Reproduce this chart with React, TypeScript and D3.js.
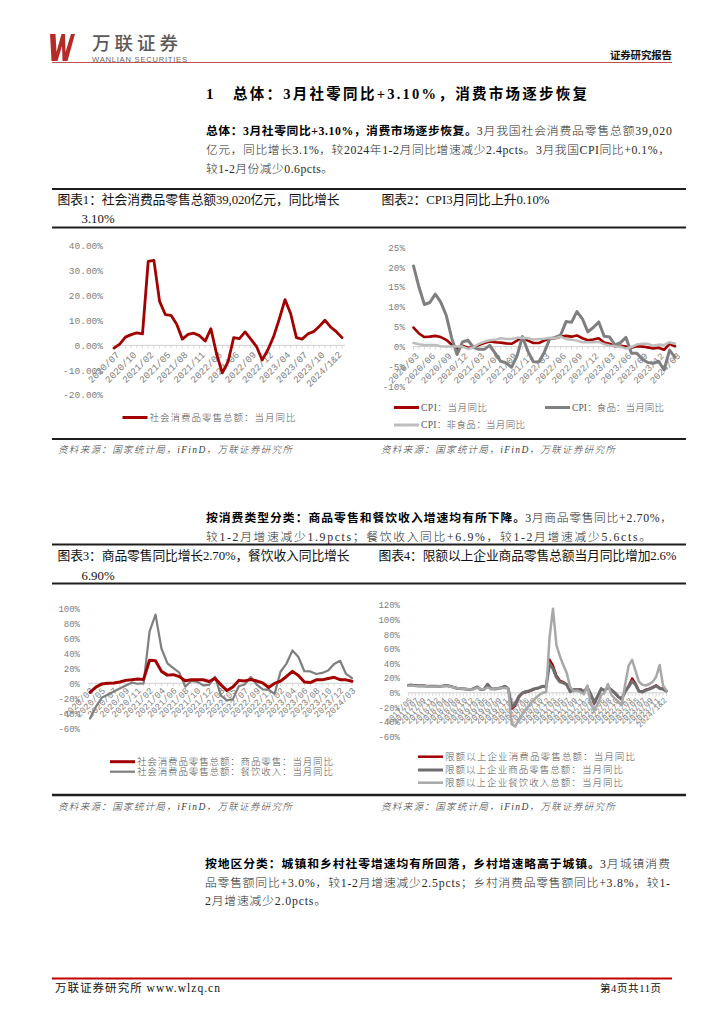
import React from "react";
import * as d3 from "d3";

// ---------------- data ----------------
// Chart 1: 社会消费品零售总额：当月同比 (%)
const cats1 = [
  "2020/07","2020/08","2020/09","2020/10","2020/11","2020/12",
  "2021/02","2021/03","2021/04","2021/05","2021/06","2021/07","2021/08","2021/09","2021/10","2021/11","2021/12",
  "2022/02","2022/03","2022/04","2022/05","2022/06","2022/07","2022/08","2022/09","2022/10","2022/11","2022/12",
  "2023/02","2023/03","2023/04","2023/05","2023/06","2023/07","2023/08","2023/09","2023/10","2023/11","2023/12",
  "2024/1&2","2024/03",
];
const retailYoY = [
  -1.1, 0.5, 3.3, 4.3, 5.0, 4.6,
  33.8, 34.2, 17.7, 12.4, 12.1, 8.5, 2.5, 4.4, 4.9, 3.9, 1.7,
  6.7, -3.5, -11.1, -6.7, 3.1, 2.7, 5.4, 2.5, -0.5, -5.9, -1.8,
  3.5, 10.6, 18.4, 12.7, 3.1, 2.5, 4.6, 5.5, 7.6, 10.1, 7.4,
  5.5, 3.1,
];

// Chart 2: CPI
const cats2 = [
  "2020/03","2020/04","2020/05","2020/06","2020/07","2020/08","2020/09","2020/10","2020/11","2020/12",
  "2021/01","2021/02","2021/03","2021/04","2021/05","2021/06","2021/07","2021/08","2021/09","2021/10","2021/11","2021/12",
  "2022/01","2022/02","2022/03","2022/04","2022/05","2022/06","2022/07","2022/08","2022/09","2022/10","2022/11","2022/12",
  "2023/01","2023/02","2023/03","2023/04","2023/05","2023/06","2023/07","2023/08","2023/09","2023/10","2023/11","2023/12",
  "2024/01","2024/02","2024/03",
];
const cpiAll = [
  4.8, 3.3, 2.4, 2.5, 2.7, 2.4, 1.7, 0.5, -0.5, 0.2,
  -0.3, -0.2, 0.4, 0.9, 1.3, 1.1, 1.0, 0.8, 0.7, 1.5, 2.3, 1.5,
  0.9, 0.9, 1.5, 2.1, 2.1, 2.5, 2.7, 2.5, 2.8, 2.1, 1.6, 1.8,
  2.1, 1.0, 0.7, 0.1, 0.2, 0.0, -0.3, 0.1, 0.0, -0.2, -0.5, -0.3,
  -0.8, 0.7, 0.1,
];
const cpiFood = [
  20.3, 15.0, 10.6, 11.1, 13.2, 11.2, 7.9, 2.2, -2.0, 1.2,
  1.6, -0.2, -0.7, -0.7, 0.3, -1.7, -3.7, -4.1, -5.2, -2.4, 2.5, -1.2,
  -3.8, -3.9, -1.5, 1.9, 2.3, 2.9, 6.3, 6.1, 8.8, 7.0, 3.7, 4.8,
  6.2, 2.6, 2.4, 0.4, 1.0, 2.3, -1.7, -1.7, -3.2, -4.0, -4.2, -3.7,
  -5.9, -0.9, -2.7,
];
const cpiNonFood = [
  0.9, 0.6, 0.4, 0.4, 0.4, 0.1, 0.0, 0.0, 0.0, 0.0,
  -0.6, -0.2, 0.7, 1.2, 1.6, 1.7, 2.1, 1.9, 1.9, 2.2, 2.2, 2.1,
  1.8, 1.9, 2.0, 2.2, 2.1, 2.5, 1.9, 1.7, 1.5, 1.1, 1.1, 1.1,
  1.2, 0.6, 0.3, 0.1, 0.0, -0.5, -0.1, 0.5, 0.7, 0.7, 0.2, 0.5,
  0.4, 1.1, 0.7,
];

// Chart 3: 商品零售 / 餐饮收入
const cats3 = [
  "2020/03","2020/04","2020/05","2020/06","2020/07","2020/08","2020/09","2020/10","2020/11","2020/12",
  "2021/02","2021/03","2021/04","2021/05","2021/06","2021/07","2021/08","2021/09","2021/10","2021/11","2021/12",
  "2022/02","2022/03","2022/04","2022/05","2022/06","2022/07","2022/08","2022/09","2022/10","2022/11","2022/12",
  "2023/02","2023/03","2023/04","2023/05","2023/06","2023/07","2023/08","2023/09","2023/10","2023/11","2023/12",
  "2024/02","2024/03",
];
const goodsYoY = [
  -12.0, -5.0, -0.8, 0.2, 0.5, 1.8, 3.9, 4.6, 5.8, 5.2,
  30.7, 30.2, 15.9, 10.9, 11.5, 8.9, 3.3, 4.7, 4.6, 4.8, 2.4,
  6.5, -2.1, -9.7, -5.0, 3.9, 3.2, 5.1, 3.0, 0.5, -5.6, -0.1,
  2.9, 9.1, 15.9, 10.5, 1.7, 1.0, 4.6, 4.6, 6.5, 8.0, 4.8,
  4.6, 2.7,
];
const cateringYoY = [
  -46.8, -31.1, -18.9, -15.2, -11.0, -7.0, -2.9, 0.8, -0.6, 0.0,
  68.9, 91.6, 46.4, 26.6, 20.2, 14.3, -4.5, 3.1, 2.0, -2.7, -2.2,
  8.9, -16.4, -22.7, -21.1, -4.0, -1.5, 8.4, -1.7, -8.1, -8.4, -14.1,
  15.4, 26.3, 43.8, 35.1, 16.1, 15.8, 12.4, 13.8, 17.1, 25.8, 30.0,
  12.5, 6.9,
];

// Chart 4: 限额以上企业
const cats4 = [
  "2017/05","2017/06","2017/07","2017/08","2017/09","2017/10","2017/11","2017/12",
  "2018/02","2018/03","2018/04","2018/05","2018/06","2018/07","2018/08","2018/09","2018/10","2018/11","2018/12",
  "2019/02","2019/03","2019/04","2019/05","2019/06","2019/07","2019/08","2019/09","2019/10","2019/11","2019/12",
  "2020/02","2020/03","2020/04","2020/05","2020/06","2020/07","2020/08","2020/09","2020/10","2020/11","2020/12",
  "2021/02","2021/03","2021/04","2021/05","2021/06","2021/07","2021/08","2021/09","2021/10","2021/11","2021/12",
  "2022/02","2022/03","2022/04","2022/05","2022/06","2022/07","2022/08","2022/09","2022/10","2022/11","2022/12",
  "2023/02","2023/03","2023/04","2023/05","2023/06","2023/07","2023/08","2023/09","2023/10","2023/11","2023/12",
  "2024/1&2","2024/03",
];
const aboveConsumer = [
  10.5, 10.8, 10.2, 9.8, 10.0, 9.6, 9.4, 9.2,
  9.3, 9.0, 9.5, 10.3, 9.2, 8.0, 7.0, 6.2, 5.6, 5.0, 4.6,
  6.0, 8.2, 4.8, 5.2, 11.9, 5.9, 5.6, 6.2, 7.3, 9.1, 5.9,
  -22.0, -18.0, -7.0, -1.5, 0.5, 1.5, 3.5, 5.5, 6.5, 8.5, 7.5,
  46.0, 38.0, 24.0, 17.0, 15.0, 12.0, 2.0, 4.5, 4.5, 5.0, 2.0,
  8.0, -3.0, -15.0, -5.0, 6.0, 3.0, 8.0, 4.0, -1.0, -6.0, -9.0,
  2.0, 10.0, 20.0, 13.0, 3.0, 2.0, 4.5, 6.0, 8.0, 10.5, 7.0,
  5.5, 2.6,
];
const aboveGoods = [
  10.2, 10.5, 9.9, 9.5, 9.7, 9.3, 9.1, 8.9,
  9.0, 8.7, 9.2, 10.0, 8.9, 7.7, 6.2, 5.8, 5.4, 4.8, 4.3,
  5.7, 8.0, 4.5, 4.9, 11.5, 5.5, 5.3, 5.9, 7.0, 8.8, 5.6,
  -19.5, -15.5, -5.5, -0.5, 1.5, 2.5, 4.5, 6.0, 7.0, 9.0, 8.0,
  40.0, 33.0, 21.0, 15.0, 13.5, 11.0, 1.5, 4.0, 4.0, 4.5, 1.5,
  7.0, -2.0, -13.0, -4.5, 5.5, 3.0, 7.5, 4.0, 0.0, -5.5, -8.0,
  1.5, 8.5, 16.0, 11.0, 2.0, 1.0, 3.5, 5.0, 7.0, 9.5, 6.0,
  5.0, 2.3,
];
const aboveCatering = [
  9.5, 9.8, 9.3, 9.0, 9.2, 8.8, 8.5, 8.3,
  8.5, 8.5, 9.0, 9.5, 8.5, 7.5, 6.5, 6.0, 5.5, 5.0, 4.5,
  5.0, 7.0, 5.0, 5.0, 7.5, 5.5, 5.5, 6.0, 6.5, 7.0, 6.0,
  -43.0, -46.0, -38.0, -30.0, -23.0, -18.0, -12.0, -7.0, -3.0, 0.0, 1.0,
  75.0, 115.0, 65.0, 50.0, 38.0, 27.0, 8.0, 2.0, 3.0, 1.0, -2.0,
  10.0, -15.0, -25.0, -15.0, -3.0, 0.0, 12.0, -3.0, -8.0, -12.0, -16.0,
  12.0, 37.0, 45.0, 30.0, 15.0, 11.0, 10.0, 12.0, 15.0, 22.0, 38.0,
  10.0, 3.0,
];

const ticks1 = [-20, -10, 0, 10, 20, 30, 40];
const ticks2 = [-10, -5, 0, 5, 10, 15, 20, 25];
const ticks3 = [-60, -40, -20, 0, 20, 40, 60, 80, 100];
const ticks4 = [-60, -40, -20, 0, 20, 40, 60, 80, 100, 120];

// ---------------- styles ----------------
const RED = "#a30000";
const GRAY = "#7f7f7f";
const LGRAY = "#bdbdbd";
const DGRAY = "#6e6e6e";
const SERIF = "'Liberation Serif','Noto Sans CJK SC',serif";
const CJK = "'Noto Sans CJK SC',sans-serif";
const MONO = "'Liberation Mono','DejaVu Sans Mono',monospace";

const emOf = (s: string) =>
  Array.from(s).reduce((a, c) => a + (c.charCodeAt(0) < 0x2000 ? 0.5 : 1), 0);

type Seg = { t: string; b?: boolean };

function TextLine({ segs, x, y, width, size = 11.8 }: { segs: Seg[]; x: number; y: number; width: number; size?: number }) {
  const total = segs.reduce((a, s) => a + emOf(s.t), 0);
  const k = width / total;
  let cx = x;
  return (
    <g>
      {segs.map((s, i) => {
        const w = emOf(s.t) * k;
        const el = (
          <text
            key={i}
            x={cx}
            y={y}
            textLength={w}
            lengthAdjust="spacing"
            fontFamily={SERIF}
            fontSize={size}
            fontWeight={s.b ? 700 : 300}
            fill={s.b ? "#000" : "#2a2a2a"}
          >
            {s.t}
          </text>
        );
        cx += w;
        return el;
      })}
    </g>
  );
}

type Series = { values: number[]; color: string; width: number };

function LineChart(props: {
  cats: string[];
  series: Series[];
  yDomain: [number, number];
  yRange: [number, number];
  xRange: [number, number];
  axis: [number, number];
  labelX: number;
  yTicks: number[];
  fmt: (v: number) => string;
  every: number;
  fs: number;
  xfs: number;
  dx: number;
  dy: number;
}) {
  const { cats, series, yDomain, yRange, xRange, axis, labelX, yTicks, fmt, every, fs, xfs, dx, dy } = props;
  const x = d3.scalePoint<string>().domain(cats).range(xRange);
  const y = d3.scaleLinear().domain(yDomain).range(yRange);
  const y0 = y(0);
  const line = d3
    .line<number>()
    .x((_, i) => x(cats[i]) as number)
    .y((d) => y(d));
  return (
    <g>
      {yTicks.map((t) => (
        <text key={t} x={labelX} y={y(t) + fs * 0.36} textAnchor="end" fontFamily={MONO} fontSize={fs} fill="#808080">
          {fmt(t)}
        </text>
      ))}
      <line x1={axis[0]} x2={axis[1]} y1={y0} y2={y0} stroke="#d0d0d0" strokeWidth={1} />
      {cats.map((c, i) => (
        <line key={"t" + i} x1={x(c)} x2={x(c)} y1={y0} y2={y0 + 3} stroke="#d0d0d0" strokeWidth={0.8} />
      ))}
      {cats.map((c, i) =>
        i % every === 0 ? (
          <text
            key={"l" + i}
            transform={`translate(${(x(c) as number) + dx},${y0 + dy}) rotate(-45)`}
            textAnchor="end"
            fontFamily={MONO}
            fontSize={xfs}
            fill="#808080"
          >
            {c}
          </text>
        ) : null
      )}
      {series.map((s, i) => (
        <path
          key={"s" + i}
          d={line(s.values) || ""}
          fill="none"
          stroke={s.color}
          strokeWidth={s.width}
          strokeLinejoin="round"
          strokeLinecap="round"
        />
      ))}
    </g>
  );
}

function Legend({ x, y, color, width, text, tw }: { x: number; y: number; color: string; width: number; text: string; tw: number }) {
  return (
    <g>
      <line x1={x} x2={x + 25} y1={y} y2={y} stroke={color} strokeWidth={width} />
      <text x={x + 27} y={y + 3.3} fontFamily={SERIF} fontSize={9.5} fontWeight={300} fill="#555" textLength={tw} lengthAdjust="spacing">
        {text}
      </text>
    </g>
  );
}

function Source({ x, y }: { x: number; y: number }) {
  return (
    <text x={x} y={y} fontFamily={SERIF} fontSize={9.5} fontStyle="italic" fontWeight={300} fill="#404040" textLength={234} lengthAdjust="spacing">
      资料来源：国家统计局，iFinD，万联证券研究所
    </text>
  );
}

function HLine({ y, w = 2 }: { y: number; w?: number }) {
  return <line x1={52} x2={686} y1={y} y2={y} stroke="#1e1e1e" strokeWidth={w} />;
}

export default function App() {
  return (
    <svg width={724} height={1024} viewBox="0 0 724 1024" style={{ position: "absolute", left: 0, top: 0 }}>
      <rect width={724} height={1024} fill="#fff" />

      {/* header */}
      <path
        d="M50,34 L55.5,34 L56.5,52 L61.5,34 L65,34 L65.5,52 L71,34 L75,34 L67.5,61 L62.5,61 L62,46 L57.5,61 L51.5,61 Z"
        fill="#b52b27"
      />
      <text x={92} y={50} fontFamily={CJK} fontSize={18.5} fontWeight={500} fill="#5a5a5a" textLength={86} lengthAdjust="spacing">
        万联证券
      </text>
      <text x={92} y={61.5} fontFamily="'Liberation Sans',sans-serif" fontSize={7.6} fill="#666" textLength={95} lengthAdjust="spacing">
        WANLIAN SECURITIES
      </text>
      <text x={610} y={59} fontFamily={CJK} fontSize={10.5} fontWeight={700} fill="#111" textLength={62} lengthAdjust="spacing">
        证券研究报告
      </text>
      <line x1={52} x2={672} y1={62.5} y2={62.5} stroke="#c0504d" strokeWidth={1.2} />

      {/* section heading */}
      <text x={206} y={99} fontFamily={SERIF} fontSize={15} fontWeight={700} fill="#000">
        1
      </text>
      <text x={233} y={99} fontFamily={SERIF} fontSize={14.5} fontWeight={700} fill="#000" textLength={354} lengthAdjust="spacing">
        总体：3月社零同比+3.10%，消费市场逐步恢复
      </text>

      {/* paragraph 1 */}
      <TextLine x={206} y={135} width={466} segs={[{ t: "总体：3月社零同比+3.10%，消费市场逐步恢复。", b: true }, { t: "3月我国社会消费品零售总额39,020" }]} />
      <TextLine x={206} y={154} width={464} segs={[{ t: "亿元，同比增长3.1%，较2024年1-2月同比增速减少2.4pcts。3月我国CPI同比+0.1%，" }]} />
      <TextLine x={206} y={173} width={127} segs={[{ t: "较1-2月份减少0.6pcts。" }]} />

      {/* figure row 1 */}
      <HLine y={189} />
      <text x={57.5} y={204} fontFamily={SERIF} fontSize={12.8} fill="#111" textLength={282} lengthAdjust="spacing">
        图表1：社会消费品零售总额39,020亿元，同比增长
      </text>
      <text x={81.5} y={222.5} fontFamily={SERIF} fontSize={12.8} fill="#111">
        3.10%
      </text>
      <text x={381.5} y={204} fontFamily={SERIF} fontSize={12.8} fill="#111" textLength={168} lengthAdjust="spacing">
        图表2：CPI3月同比上升0.10%
      </text>
      <HLine y={227.5} />

      <LineChart
        cats={cats1}
        series={[{ values: retailYoY, color: RED, width: 2.8 }]}
        yDomain={[-20, 40]}
        yRange={[395, 246]}
        xRange={[114, 342]}
        axis={[112, 345]}
        labelX={103}
        yTicks={ticks1}
        fmt={(v) => v.toFixed(2) + "%"}
        every={3}
        fs={9.5}
        xfs={9.5}
        dx={6}
        dy={10}
      />
      <Legend x={122.5} y={417.5} color={RED} width={3} text="社会消费品零售总额：当月同比" tw={146} />

      <LineChart
        cats={cats2}
        series={[
          { values: cpiAll, color: RED, width: 2.6 },
          { values: cpiFood, color: GRAY, width: 3 },
          { values: cpiNonFood, color: LGRAY, width: 2.5 },
        ]}
        yDomain={[-10, 25]}
        yRange={[386.3, 247.3]}
        xRange={[413.5, 675]}
        axis={[413, 676]}
        labelX={405}
        yTicks={ticks2}
        fmt={(v) => v + "%"}
        every={3}
        fs={9.3}
        xfs={9.3}
        dx={6}
        dy={10}
      />
      <Legend x={394} y={407.5} color={RED} width={3} text="CPI：当月同比" tw={66} />
      <Legend x={545} y={407.5} color={GRAY} width={3} text="CPI：食品：当月同比" tw={92} />
      <Legend x={394} y={425} color={LGRAY} width={3} text="CPI：非食品：当月同比" tw={104} />

      <HLine y={439} />
      <Source x={58} y={452.5} />
      <Source x={381} y={452.5} />

      {/* paragraph 2 */}
      <TextLine x={206} y={522} width={466} segs={[{ t: "按消费类型分类：商品零售和餐饮收入增速均有所下降。", b: true }, { t: "3月商品零售同比+2.70%，" }]} />
      <TextLine x={206} y={541} width={445} segs={[{ t: "较1-2月增速减少1.9pcts；餐饮收入同比+6.9%，较1-2月增速减少5.6cts。" }]} />

      {/* figure row 2 */}
      <HLine y={544.5} />
      <text x={57.5} y={559.5} fontFamily={SERIF} fontSize={12.8} fill="#111" textLength={292} lengthAdjust="spacing">
        图表3：商品零售同比增长2.70%，餐饮收入同比增长
      </text>
      <text x={81.5} y={579.5} fontFamily={SERIF} fontSize={12.8} fill="#111">
        6.90%
      </text>
      <text x={378.5} y={560} fontFamily={SERIF} fontSize={12.8} fill="#111" textLength={298} lengthAdjust="spacing">
        图表4：限额以上企业商品零售总额当月同比增加2.6%
      </text>
      <HLine y={583.5} />

      <LineChart
        cats={cats3}
        series={[
          { values: cateringYoY, color: GRAY, width: 2.2 },
          { values: goodsYoY, color: RED, width: 3 },
        ]}
        yDomain={[-60, 100]}
        yRange={[728.3, 608.3]}
        xRange={[90, 352]}
        axis={[88, 353]}
        labelX={80}
        yTicks={ticks3}
        fmt={(v) => v + "%"}
        every={2}
        fs={9}
        xfs={9}
        dx={4}
        dy={8}
      />
      <Legend x={110} y={761.7} color={RED} width={3} text="社会消费品零售总额：商品零售：当月同比" tw={196} />
      <Legend x={110} y={771.7} color={GRAY} width={2.2} text="社会消费品零售总额：餐饮收入：当月同比" tw={196} />

      <LineChart
        cats={cats4}
        series={[
          { values: aboveConsumer, color: RED, width: 2 },
          { values: aboveGoods, color: DGRAY, width: 3 },
          { values: aboveCatering, color: "#a8a8a8", width: 2.5 },
        ]}
        yDomain={[-60, 120]}
        yRange={[736.7, 605]}
        xRange={[408.5, 666.5]}
        axis={[407.5, 667.5]}
        labelX={400}
        yTicks={ticks4}
        fmt={(v) => v + "%"}
        every={2}
        fs={9}
        xfs={8}
        dx={4}
        dy={8}
      />
      <Legend x={418} y={756.7} color={RED} width={2.5} text="限额以上企业消费品零售总额：当月同比" tw={190} />
      <Legend x={418} y={770} color={DGRAY} width={3} text="限额以上企业商品零售总额：当月同比" tw={178} />
      <Legend x={418} y={782.7} color="#a8a8a8" width={2.5} text="限额以上企业餐饮收入总额：当月同比" tw={178} />

      <HLine y={795} w={2.5} />
      <Source x={58} y={809.5} />
      <Source x={381} y={809.5} />

      {/* paragraph 3 */}
      <TextLine x={205} y={867.5} width={465} segs={[{ t: "按地区分类：城镇和乡村社零增速均有所回落，乡村增速略高于城镇。", b: true }, { t: "3月城镇消费" }]} />
      <TextLine x={205} y={886.5} width={465} segs={[{ t: "品零售额同比+3.0%，较1-2月增速减少2.5pcts；乡村消费品零售额同比+3.8%，较1-" }]} />
      <TextLine x={205} y={905} width={121} segs={[{ t: "2月增速减少2.0pcts。" }]} />

      {/* footer */}
      <line x1={52} x2={672} y1={978.5} y2={978.5} stroke="#c00000" strokeWidth={2} />
      <text x={55} y={992} fontFamily={SERIF} fontSize={11.5} fill="#111" textLength={165} lengthAdjust="spacing">
        万联证券研究所 www.wlzq.cn
      </text>
      <text x={600} y={992} fontFamily={SERIF} fontSize={10.5} fill="#111" textLength={61} lengthAdjust="spacing">
        第4页共11页
      </text>
    </svg>
  );
}
